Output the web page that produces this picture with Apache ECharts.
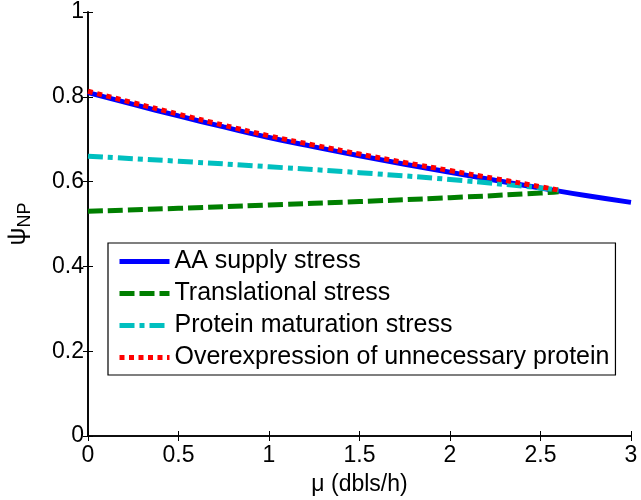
<!DOCTYPE html>
<html><head><meta charset="utf-8">
<script src="https://cdn.jsdelivr.net/npm/echarts@6/dist/echarts.min.js"></script>
<style>html,body{margin:0;padding:0;background:#fff}#c{width:641px;height:500px}</style>
</head><body><div id="c"></div>
<script>
const seriesNames = ['AA supply stress','Translational stress','Protein maturation stress','Overexpression of unnecessary protein'];
const xAA = [0,0.25,0.5,0.75,1,1.25,1.5,1.75,2,2.25,2.5,2.75,3];
const yAA = [0.810,0.782,0.755,0.729,0.704,0.682,0.661,0.641,0.622,0.603,0.585,0.567,0.551];
const xShort = [0,0.5,1,1.5,2,2.5,2.6];
const yTrans = [0.530,0.537,0.545,0.553,0.562,0.573,0.576];
const yProt = [0.660,0.648,0.635,0.621,0.605,0.585,0.580];
const xOver = [0,0.25,0.5,0.75,1,1.25,1.5,1.75,2,2.25,2.5,2.6];
const yOver = [0.813,0.786,0.759,0.733,0.708,0.686,0.665,0.645,0.626,0.607,0.588,0.580];
const xTicks = [0,0.5,1,1.5,2,2.5,3];
const yTicks = [0,0.2,0.4,0.6,0.8,1];

const pair = (xs, ys) => xs.map((x,i)=>[x, ys[i]]);
const font = 'Liberation Sans, Arial, sans-serif';
const chart = echarts.init(document.getElementById('c'), null, {renderer:'canvas'});
const axisLine = {show:true, lineStyle:{color:'#000', width:1.6}};
const tick = {show:true, inside:true, length:5, lineStyle:{color:'#000', width:1}};
chart.setOption({
  animation:false,
  backgroundColor:'#fff',
  grid:{left:88, right:10, top:12, bottom:64, containLabel:false, outerBoundsMode:'none'},
  xAxis:[{
    type:'value', min:0, max:3, interval:0.5,
    axisLine:axisLine, axisTick:tick,
    splitLine:{show:false},
    axisLabel:{color:'#000', fontFamily:font, fontSize:23, margin:8,
      formatter:v=>String(v)},
    name:'μ (dbls/h)', nameLocation:'middle', nameGap:37,
    nameTextStyle:{color:'#000', fontFamily:font, fontSize:23}
  },{
    type:'value', position:'top', min:0, max:3, interval:0.5,
    axisLine:axisLine, axisTick:tick,
    axisLabel:{show:false}, splitLine:{show:false}
  }],
  yAxis:[{
    type:'value', min:0, max:1, interval:0.2,
    axisLine:axisLine, axisTick:tick,
    splitLine:{show:false},
    axisLabel:{color:'#000', fontFamily:font, fontSize:23, margin:4, formatter:v=>String(+v.toFixed(1))},
    name:'{a|ψ}{b|NP}', nameLocation:'middle', nameGap:54, nameRotate:90,
    nameTextStyle:{rich:{
      a:{color:'#000', fontFamily:font, fontSize:25},
      b:{color:'#000', fontFamily:font, fontSize:18, padding:[14,0,0,0]}
    }}
  },{
    type:'value', position:'right', min:0, max:1, interval:0.2,
    axisLine:axisLine, axisTick:tick,
    axisLabel:{show:false}, splitLine:{show:false}
  }],
  legend:{
    orient:'vertical', left:108, top:243,
    data:seriesNames,
    itemWidth:50, itemHeight:25, itemGap:7,
    padding:[6,6,5,9],
    borderColor:'#000', borderWidth:1.2, backgroundColor:'#fff',
    itemStyle:{opacity:0},
    lineStyle:{width:5},
    textStyle:{color:'#000', fontFamily:font, fontSize:25}
  },
  series:[
    {name:seriesNames[0], type:'line', data:pair(xAA,yAA), symbol:'none', smooth:true, z:2,
     lineStyle:{color:'#0000ff', width:5, type:'solid'}, itemStyle:{color:'#0000ff'}},
    {name:seriesNames[1], type:'line', data:pair(xShort,yTrans), symbol:'none', smooth:true, z:3,
     lineStyle:{color:'#007f00', width:5, type:[15,5]}, itemStyle:{color:'#007f00'}},
    {name:seriesNames[2], type:'line', data:pair(xShort,yProt), symbol:'none', smooth:true, z:3,
     lineStyle:{color:'#00bfbf', width:5, type:[15,5,5,5]}, itemStyle:{color:'#00bfbf'}},
    {name:seriesNames[3], type:'line', data:pair(xOver,yOver), symbol:'none', smooth:true, z:4,
     lineStyle:{color:'#ff0000', width:5, type:[5,4.5]}, itemStyle:{color:'#ff0000'}}
  ]
});
</script></body></html>
